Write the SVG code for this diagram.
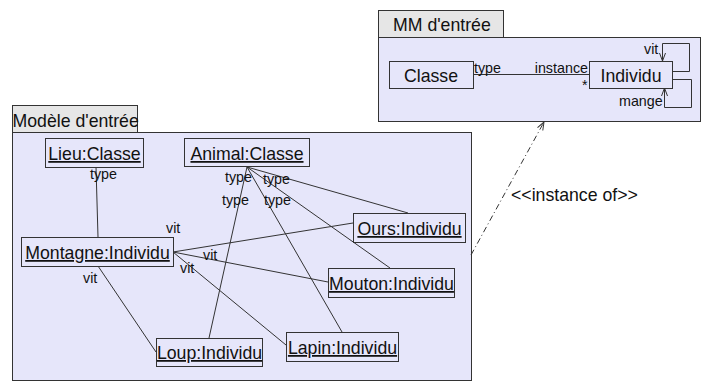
<svg xmlns="http://www.w3.org/2000/svg" width="702" height="381" viewBox="0 0 702 381">
<style>
text{font-family:"Liberation Sans",Arial,sans-serif;fill:#111}
.pkg{fill:#e6e6fa;stroke:#333;stroke-width:1}
.tab{fill:#e6e6e6;stroke:#333;stroke-width:1}
.node{fill:#e6e6fa;stroke:#333;stroke-width:1}
.nt{font-size:17.7px;text-anchor:middle}
.u{text-decoration:underline}
.lbl{font-size:14.3px}
.pt{font-size:17.7px}
.c{stroke:#333;stroke-width:1;fill:none}
.dep{stroke:#333;stroke-width:1;fill:none;stroke-dasharray:6 3 1 3}
</style>
<defs>
<marker id="open" markerWidth="10" markerHeight="10" refX="9" refY="5" orient="auto" markerUnits="userSpaceOnUse">
<path d="M1,2 L9,5 L1,8" fill="none" stroke="#333" stroke-width="1"/>
</marker>
</defs>
<g id="pkg-mm">
<rect class="tab" x="378.5" y="10.5" width="125" height="27"/>
<rect class="pkg" x="378.5" y="37.5" width="322" height="84"/>
<text class="pt" x="393" y="31">MM d'entrée</text>
</g>
<g id="pkg-modele">
<rect class="tab" x="12.5" y="105.5" width="125" height="27"/>
<rect class="pkg" x="12.5" y="132.5" width="459" height="248"/>
<text class="pt" x="12.5" y="127">Modèle d'entrée</text>
</g>
<g id="connectors">
<line class="c" x1="473" y1="74.5" x2="589" y2="74.5"/>
<polyline class="c" points="672,71.5 689.5,71.5 689.5,43.5 662.5,43.5 662.5,61" marker-end="url(#open)"/>
<polyline class="c" points="672,79.5 691.5,79.5 691.5,107.5 664.5,107.5 664.5,88" marker-end="url(#open)"/>
<line class="c" x1="96" y1="167" x2="98" y2="237"/>
<line class="c" x1="247" y1="167" x2="408" y2="213"/>
<line class="c" x1="247" y1="167" x2="390" y2="268"/>
<line class="c" x1="247" y1="167" x2="342" y2="332"/>
<line class="c" x1="247" y1="167" x2="209" y2="338"/>
<line class="c" x1="173" y1="252" x2="353" y2="223"/>
<line class="c" x1="173" y1="252" x2="328" y2="282"/>
<line class="c" x1="173" y1="252" x2="286" y2="345"/>
<line class="c" x1="98" y1="266" x2="156" y2="352"/>
<line class="dep" x1="471" y1="255" x2="544" y2="122" marker-end="url(#open)"/>
<text class="lbl" x="474" y="73">type</text>
<text class="lbl" x="588" y="73" text-anchor="end">instance</text>
<text class="lbl" x="582" y="90">*</text>
<text class="lbl" x="644" y="54">vit</text>
<text class="lbl" x="619" y="106">mange</text>
<text class="lbl" x="90" y="179">type</text>
<text class="lbl" x="225" y="182">type</text>
<text class="lbl" x="263" y="184">type</text>
<text class="lbl" x="222" y="205">type</text>
<text class="lbl" x="264" y="205">type</text>
<text class="lbl" x="166" y="233">vit</text>
<text class="lbl" x="203" y="260">vit</text>
<text class="lbl" x="180" y="273">vit</text>
<text class="lbl" x="83" y="283">vit</text>
<text class="pt" x="511" y="201">&lt;&lt;instance of&gt;&gt;</text>
</g>
<g id="classe">
<rect class="node" x="389.5" y="61.5" width="84" height="27"/>
<text class="nt" x="431" y="82">Classe</text>
</g>
<g id="individu">
<rect class="node" x="589.5" y="61.5" width="83" height="27"/>
<text class="nt" x="631" y="82">Individu</text>
</g>
<g id="lieu">
<rect class="node" x="45.5" y="138.5" width="98" height="29"/>
<text class="nt u" x="94.5" y="160">Lieu:Classe</text>
</g>
<g id="animal">
<rect class="node" x="184.5" y="138.5" width="125" height="28"/>
<text class="nt u" x="247" y="160">Animal:Classe</text>
</g>
<g id="montagne">
<rect class="node" x="21.5" y="237.5" width="152" height="29"/>
<text class="nt u" x="97.5" y="259">Montagne:Individu</text>
</g>
<g id="ours">
<rect class="node" x="353.5" y="213.5" width="112" height="29"/>
<text class="nt u" x="409.5" y="235">Ours:Individu</text>
</g>
<g id="mouton">
<rect class="node" x="328.5" y="268.5" width="126" height="29"/>
<text class="nt u" x="391.5" y="290">Mouton:Individu</text>
</g>
<g id="loup">
<rect class="node" x="156.5" y="338.5" width="106" height="28"/>
<text class="nt u" x="209.5" y="359">Loup:Individu</text>
</g>
<g id="lapin">
<rect class="node" x="286.5" y="332.5" width="112" height="29"/>
<text class="nt u" x="342.5" y="354">Lapin:Individu</text>
</g>
</svg>
